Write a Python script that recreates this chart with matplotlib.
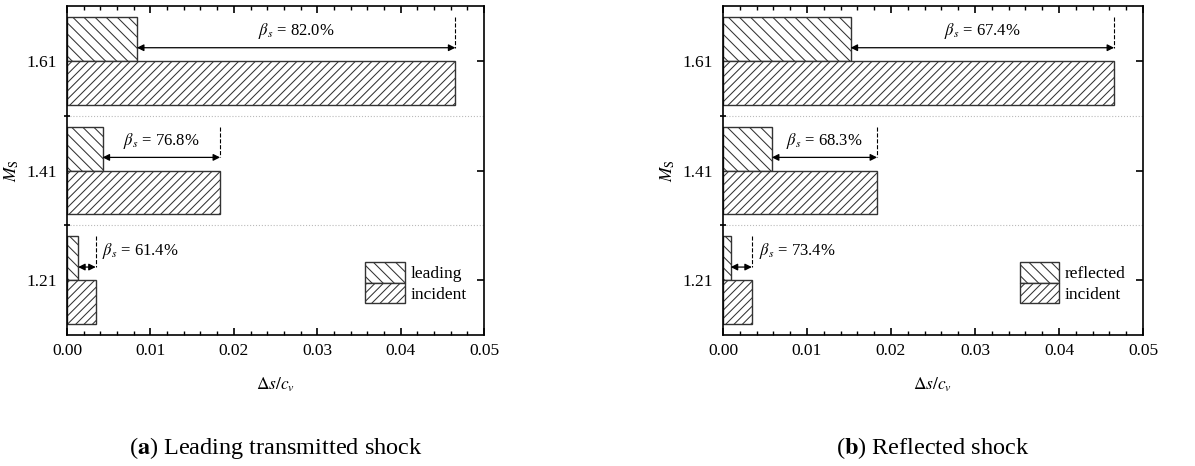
import matplotlib
matplotlib.use("Agg")
import matplotlib.pyplot as plt
from matplotlib.ticker import MultipleLocator, FixedLocator

plt.rcParams['font.family'] = ['Liberation Serif', 'DejaVu Serif']
plt.rcParams['mathtext.fontset'] = 'stix'
plt.rcParams['hatch.linewidth'] = 0.75

# datos
mach = ['1.21', '1.41', '1.61']
incident = [0.00344, 0.01835, 0.04656]
leading = [0.00133, 0.00426, 0.00838]
reflected = [0.00092, 0.00582, 0.01519]
beta_leading = ['61.4%', '76.8%', '82.0%']
beta_reflected = ['73.4%', '68.3%', '67.4%']


def draw_panel(ax, other, incident, betas, other_label):
    pos = list(range(len(mach)))
    h = 0.4
    ax.barh([p + h / 2 for p in pos], other, height=h, color='white',
            edgecolor='#333333', linewidth=1.0, hatch='\\\\\\', label=other_label)
    ax.barh([p - h / 2 for p in pos], incident, height=h, color='white',
            edgecolor='#333333', linewidth=1.0, hatch='////', label='incident')
    for i, p in enumerate(pos):
        ya = p + 0.12
        ax.plot([incident[i], incident[i]], [p + 0.4, ya], ls='--', color='black', lw=0.8)
        ax.annotate('', xy=(other[i], ya), xytext=(incident[i], ya),
                    arrowprops=dict(arrowstyle='<|-|>', color='black', lw=0.9,
                                    mutation_scale=10, shrinkA=0, shrinkB=0))
        txt = r'$\beta_s$ = ' + betas[i]
        if i == 0:
            ax.text(incident[i] + 0.0008, p + 0.27, txt, ha='left', va='center', fontsize=12)
        else:
            ax.text((other[i] + incident[i]) / 2, p + 0.27, txt, ha='center', va='center', fontsize=12)
    for s in [0.5, 1.5]:
        ax.axhline(s, color='#bbbbbb', ls=':', lw=0.8, zorder=0)
    ax.set_xlim(0, 0.05)
    ax.set_ylim(-0.5, 2.5)
    ax.xaxis.set_major_locator(MultipleLocator(0.01))
    ax.xaxis.set_minor_locator(MultipleLocator(0.002))
    ax.xaxis.set_major_formatter(matplotlib.ticker.FormatStrFormatter('%.2f'))
    ax.tick_params(axis='x', which='both', direction='in', top=True, labelsize=12.5, pad=6)
    ax.tick_params(axis='x', which='major', length=5, width=1.2)
    ax.tick_params(axis='x', which='minor', length=3, width=1.0)
    ax.set_yticks(pos)
    ax.set_yticklabels(mach)
    ax.yaxis.set_minor_locator(FixedLocator([0.5, 1.5]))
    ax.tick_params(axis='y', which='major', left=False, right=True, direction='in',
                   length=5, width=1.2, labelsize=12.5, pad=7)
    ax.tick_params(axis='y', which='minor', left=True, direction='inout', length=5, width=1.2)
    for sp in ax.spines.values():
        sp.set_linewidth(1.2)
    ax.set_xlabel(r'$\Delta s/c_v$', fontsize=12.5, labelpad=12)
    ax.set_ylabel(r'$M_{\mathrm{S}}$', fontsize=12.5, labelpad=4)
    ax.legend(loc='lower right', bbox_to_anchor=(0.975, 0.075), frameon=False, fontsize=12.5,
              handlelength=2.3, handleheight=1.4, handletextpad=0.3, labelspacing=0.05,
              borderaxespad=0.0)


fig = plt.figure(figsize=(11.95, 4.66), dpi=100)
ax1 = fig.add_axes([0.0561, 0.281, 0.349, 0.706])
ax2 = fig.add_axes([0.605, 0.281, 0.3515, 0.706])
draw_panel(ax1, leading, incident, beta_leading, 'leading')
draw_panel(ax2, reflected, incident, beta_reflected, 'reflected')

fig.text(0.2305, 0.039, r'($\mathbf{a}$) Leading transmitted shock', ha='center', va='center', fontsize=17.5)
fig.text(0.7805, 0.039, r'($\mathbf{b}$) Reflected shock', ha='center', va='center', fontsize=17.5)

fig.savefig('out.png', dpi=100)
plt.close()
